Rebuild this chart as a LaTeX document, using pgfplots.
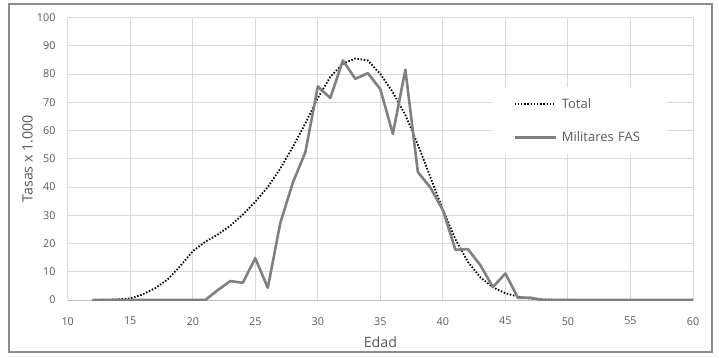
\documentclass[border=0pt]{standalone}
\usepackage{pgfplots}
\pgfplotsset{compat=1.18}
\usepackage{fontspec}
\setmainfont{Open Sans}
\definecolor{gridc}{HTML}{D9D9D9}
\definecolor{tickc}{HTML}{595959}
\definecolor{serc}{HTML}{808080}
\definecolor{framec}{HTML}{8C8C8C}
\begin{document}
\begin{tikzpicture}
\path[use as bounding box] (0,0) rectangle (719pt,357pt);
\fill[white] (0,0) rectangle (719pt,357pt);
\draw[framec, line width=1.6pt] (9pt,5pt) rectangle (712pt,353pt);
\begin{axis}[
  at={(67.7pt,57pt)}, anchor=south west,
  scale only axis, width=625.3pt, height=282.5pt,
  xmin=10, xmax=60, ymin=0, ymax=100,
  xtick={10,15,...,60}, ytick={0,10,...,100},
  major tick length=0pt,
  grid=major,
  major grid style={gridc, line width=0.9pt},
  axis line style={draw=none},
  axis x line*=bottom,
  /pgf/number format/assume math mode=true,
  tick label style={font=\fontsize{10.8}{13}\selectfont, text=tickc, inner sep=0pt},
  yticklabel style={anchor=east, xshift=-12pt},
  xticklabel style={anchor=north, yshift=-17pt},
  /pgf/number format/.cd, use comma, 1000 sep={.},
  /pgfplots/.cd,
  xlabel={Edad}, ylabel={Tasas x 1.000},
  label style={font=\fontsize{14.2}{16}\selectfont, text=tickc},
  xlabel style={at={(axis description cs:0.5,-0.149)}, anchor=center},
  ylabel style={at={(axis description cs:-0.064,0.5)}, anchor=center, rotate=0},
  legend style={at={(axis description cs:0.6786,0.754)}, anchor=north west,
    draw=none, fill=white, font=\fontsize{13}{15}\selectfont, text=tickc,
    inner xsep=21pt, inner ysep=9pt, row sep=18pt, text width=82pt},
  legend cell align=left,
  legend image code/.code={\draw[#1] (0pt,0pt) -- (41pt,0pt); \path (44pt,0pt);},
]
\draw[color=black!25, line width=1pt] (axis cs:10,0) -- (axis cs:60,0);
\addplot[black, line width=1.8pt, dash pattern=on 1.5pt off 1.7pt] coordinates {
(12,0) (13,0.05) (14,0.2) (15,0.6) (16,2) (17,4.2) (18,7.3) (19,12) (20,17.3)
(21,20.6) (22,23.2) (23,26.3) (24,30.2) (25,34.8) (26,40) (27,46.5) (28,54.2)
(29,62.5) (30,71.5) (31,79) (32,83.6) (33,85.5) (34,84.8) (35,80) (36,73.5)
(37,65.5) (38,55) (39,43.5) (40,32) (41,21.5) (42,13.5) (43,8) (44,4.5)
(45,2.4) (46,1.2) (47,0.5) (48,0.2) (49,0.1) (50,0.05) (51,0) (52,0) (53,0)
(54,0) (55,0) (56,0) (57,0) (58,0) (59,0) (60,0)};
\addlegendentry{Total}
\addplot[serc, line width=2.6pt, line join=round] coordinates {
(12,0) (13,0) (14,0) (15,0) (16,0) (17,0) (18,0) (19,0) (20,0) (21,0)
(22,3.5) (23,6.7) (24,6.1) (25,14.8) (26,4.3) (27,27.3) (28,41.5) (29,52.3)
(30,75.6) (31,71.5) (32,84.8) (33,78.3) (34,80.3) (35,74.6) (36,58.8)
(37,81.5) (38,45.3) (39,39.8) (40,31.8) (41,17.8) (42,18) (43,12.3) (44,4.6)
(45,9.4) (46,0.8) (47,0.8) (48,0) (49,0) (50,0) (51,0) (52,0) (53,0) (54,0)
(55,0) (56,0) (57,0) (58,0) (59,0) (60,0)};
\addlegendentry{Militares FAS}
\end{axis}
\end{tikzpicture}
\end{document}
